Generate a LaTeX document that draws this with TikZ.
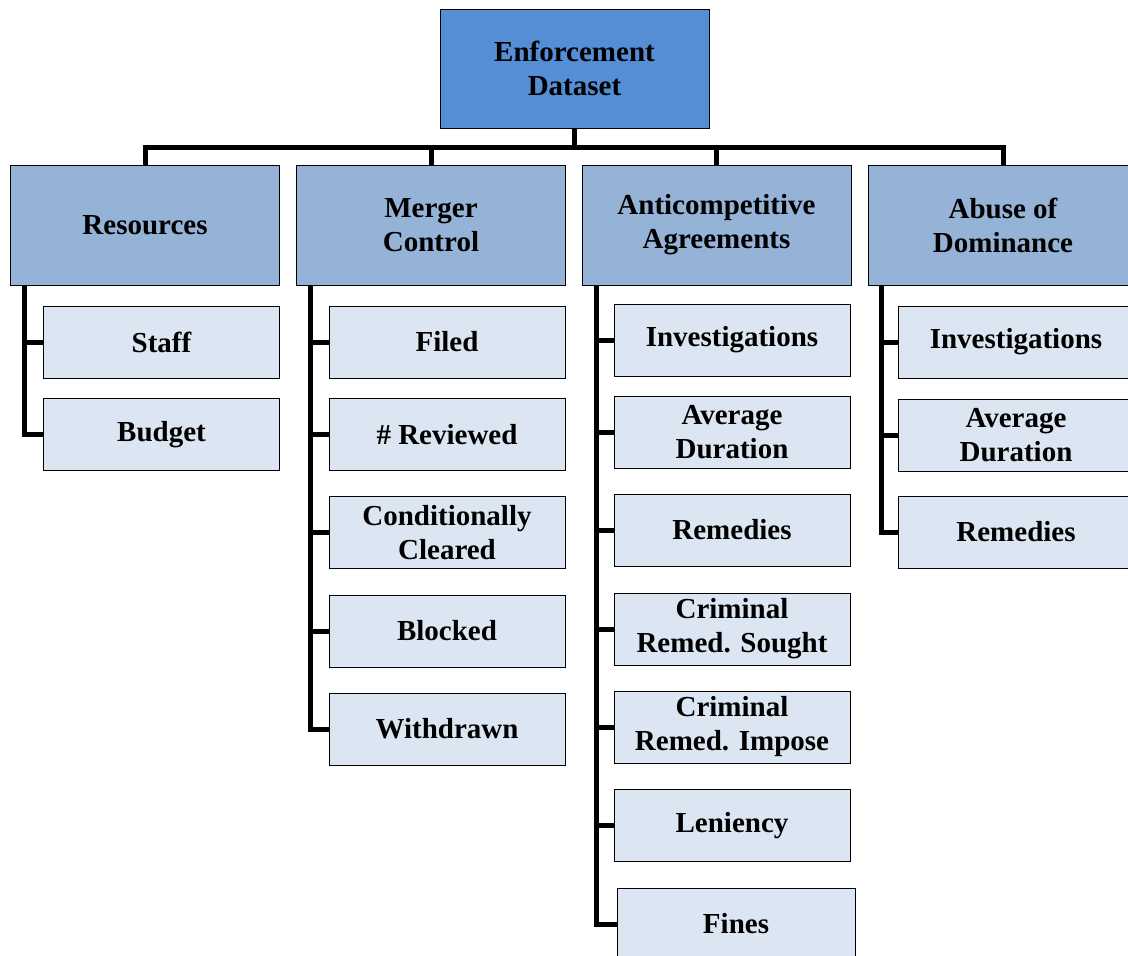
\documentclass[tikz,border=0pt]{standalone}
\usepackage{fontspec}
\setmainfont{Liberation Serif}
\usetikzlibrary{positioning}

\definecolor{rootblue}{RGB}{85,142,213}
\definecolor{catblue}{RGB}{149,179,215}
\definecolor{leafblue}{RGB}{220,230,242}

\begin{document}
\begin{tikzpicture}[
  x=1pt, y=-1pt,
  box/.style = {draw, line width=1pt, align=center, inner sep=1pt,
                font=\fontsize{29}{34}\selectfont\bfseries},
  rootbox/.style = {box, fill=rootblue, minimum width=269pt, minimum height=119pt},
  catbox/.style = {box, fill=catblue, minimum width=269pt, minimum height=120pt},
  leafbox/.style = {box, fill=leafblue, minimum width=236pt, minimum height=72pt},
  conn/.style = {line width=5pt}
]
  \useasboundingbox (0,0) rectangle (1128,956);

  % top of the tree
  \node[rootbox] (root) at (574.5,68.5) {Enforcement\\Dataset};

  % categories
  \node[catbox] (res)   at (145,225)   {Resources};
  \node[catbox] (merg)  at (431,225)   {Merger\\Control};
  \node[catbox] (anti)  at (716.5,225) {Anticompetitive\\Agreements};
  \node[catbox] (abuse) at (1003,225)  {Abuse of\\Dominance};

  % bus from the root down to the categories
  \foreach \c in {res, merg, anti, abuse}
    \draw[conn] (root.south) -- ++(0,19) -| (\c.north);

  % resources
  \node[leafbox] (staff)  at (161.5,342)   {Staff};
  \node[leafbox] (budget) at (161.5,434.5) {Budget};

  % merger control
  \node[leafbox] (filed)  at (447,342)   {Filed};
  \node[leafbox] (review) at (447,434.5) {\# Reviewed};
  \node[leafbox] (cond)   at (447,532.5) {Conditionally\\Cleared};
  \node[leafbox] (block)  at (447,631)   {Blocked};
  \node[leafbox] (withd)  at (447,729)   {Withdrawn};

  % anticompetitive agreements
  \node[leafbox] (ainv)   at (732,340)   {Investigations};
  \node[leafbox] (adur)   at (732,432.5) {Average\\Duration};
  \node[leafbox] (arem)   at (732,530)   {Remedies};
  \node[leafbox] (sought) at (732,629)   {Criminal\\Remed. Sought};
  \node[leafbox] (impose) at (732,727)   {Criminal\\Remed. Impose};
  \node[leafbox] (len)    at (732,825.5) {Leniency};
  \node[leafbox, minimum width=238pt] (fines) at (736,924) {Fines};

  % abuse of dominance
  \node[leafbox] (binv)   at (1016,342) {Investigations};
  \node[leafbox] (bdur)   at (1016,435) {Average\\Duration};
  \node[leafbox] (brem)   at (1016,532) {Remedies};

  % branches to the leaves
  \foreach \c in {staff, budget}
    \draw[conn] ([xshift=14pt]res.south west) |- (\c.west);
  \foreach \c in {filed, review, cond, block, withd}
    \draw[conn] ([xshift=14pt]merg.south west) |- (\c.west);
  \foreach \c in {ainv, adur, arem, sought, impose, len, fines}
    \draw[conn] ([xshift=15pt]anti.south west) |- (\c.west);
  \foreach \c in {binv, bdur, brem}
    \draw[conn] ([xshift=13pt]abuse.south west) |- (\c.west);

\end{tikzpicture}
\end{document}
